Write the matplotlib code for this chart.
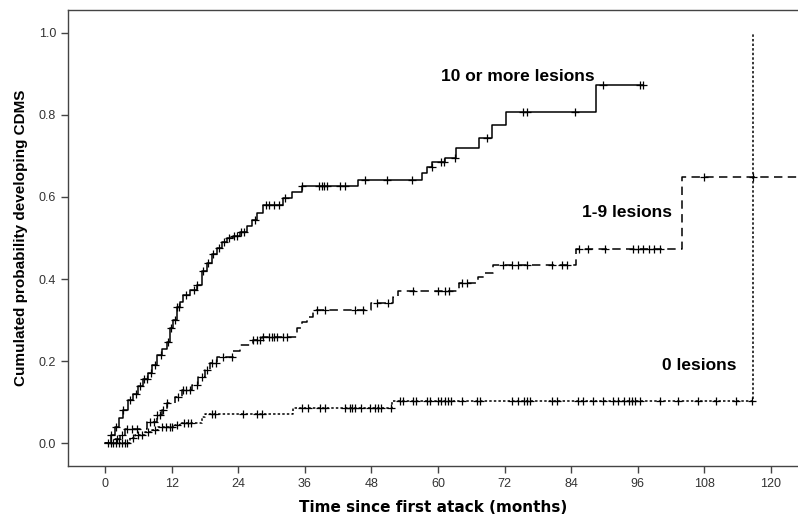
import matplotlib
matplotlib.use("Agg")
import matplotlib.pyplot as plt
import numpy as np

plt.rcParams['font.family'] = ['Liberation Sans', 'DejaVu Sans']

# Kaplan-Meier estimates: event times (months) and cumulated probability after each event
t_10 = [1.0, 1.8, 2.5, 3.2, 4.2, 5.0, 6.0, 6.8, 7.8, 8.5, 9.3, 10.2, 11.1, 11.7, 12.3,
        12.9, 13.5, 14.1, 15.3, 16.5, 17.4, 18.3, 19.2, 20.1, 21.0, 22.0, 23.0, 24.3,
        25.5, 26.4, 27.3, 28.5, 32.0, 33.6, 35.4, 45.5, 57.2, 58.0, 59.0, 61.3, 63.2,
        67.4, 69.7, 72.3, 88.5]
p_10 = [0.02, 0.04, 0.06, 0.08, 0.105, 0.12, 0.14, 0.155, 0.17, 0.19, 0.215, 0.23, 0.247,
        0.28, 0.30, 0.332, 0.345, 0.36, 0.372, 0.385, 0.42, 0.44, 0.46, 0.475, 0.49, 0.50,
        0.505, 0.515, 0.53, 0.544, 0.56, 0.58, 0.597, 0.613, 0.627, 0.641, 0.658, 0.674,
        0.686, 0.696, 0.719, 0.743, 0.776, 0.808, 0.873]
c_10 = [1.0, 2.0, 3.3, 4.5, 5.5, 6.2, 7.0, 7.5, 8.3, 9.0, 10.0, 11.3, 11.8, 12.5, 13.0,
        13.3, 14.5, 16.0, 16.5, 17.7, 18.5, 19.5, 20.5, 21.5, 22.3, 23.2, 23.8, 24.5, 25.0,
        27.0, 29.0, 29.5, 30.5, 31.3, 32.5, 35.4, 38.6, 39.0, 39.5, 40.0, 42.3, 43.3, 46.8,
        50.8, 55.4, 58.9, 60.6, 61.0, 63.0, 68.8, 75.3, 76.0, 84.7, 89.7, 96.4, 97.0]

t_19 = [1.5, 2.7, 3.6, 7.5, 9.3, 10.2, 11.1, 12.6, 13.8, 15.6, 16.8, 18.0, 18.9, 20.1,
        23.0, 24.3, 26.7, 28.2, 34.5, 35.5, 36.3, 37.5, 48.0, 51.9, 52.8, 63.7, 67.3,
        68.5, 70.0, 84.9, 103.9]
p_19 = [0.01, 0.02, 0.035, 0.052, 0.068, 0.08, 0.097, 0.113, 0.129, 0.141, 0.162, 0.178,
        0.194, 0.21, 0.225, 0.239, 0.251, 0.258, 0.28, 0.295, 0.308, 0.324, 0.341, 0.355,
        0.371, 0.391, 0.405, 0.415, 0.434, 0.472, 0.648]
c_19 = [2.2, 3.0, 4.0, 4.8, 5.8, 8.1, 8.8, 9.4, 9.9, 10.5, 11.1, 13.2, 14.0, 14.6, 15.3,
        16.5, 17.4, 18.3, 19.2, 20.0, 21.3, 22.8, 26.7, 27.3, 27.9, 28.5, 29.5, 30.0, 30.5,
        31.0, 32.0, 32.7, 38.1, 39.6, 45.0, 46.5, 49.0, 51.0, 55.5, 60.0, 61.3, 61.9, 64.3,
        65.2, 71.8, 73.3, 74.5, 76.0, 80.5, 82.3, 83.2, 85.5, 87.1, 90.1, 95.1, 96.0, 97.0,
        98.0, 99.0, 100.0, 107.9, 116.8, 127.0]

t_0 = [4.5, 5.4, 7.2, 8.4, 9.6, 12.6, 13.5, 17.4, 18.0, 33.9, 51.7, 116.8]
p_0 = [0.012, 0.02, 0.027, 0.032, 0.04, 0.044, 0.048, 0.064, 0.072, 0.085, 0.103, 1.0]
c_0 = [0.5, 1.0, 1.5, 2.0, 2.5, 3.0, 3.5, 4.0, 5.0, 6.0, 6.6, 7.8, 9.0, 10.3, 11.0, 11.6,
       12.0, 13.0, 14.3, 15.0, 15.5, 19.2, 19.8, 24.9, 27.3, 28.2, 35.4, 36.6, 38.7, 39.6,
       43.2, 44.1, 44.5, 45.0, 46.2, 47.7, 48.6, 49.2, 49.8, 51.5, 53.2, 53.7, 55.5, 56.1,
       58.0, 58.6, 60.0, 60.6, 61.2, 61.8, 62.4, 64.3, 67.0, 67.5, 73.3, 74.5, 75.5, 76.0,
       76.6, 80.5, 81.4, 85.3, 86.2, 87.9, 89.8, 91.5, 92.5, 93.5, 94.5, 95.0, 95.5, 96.4,
       100.0, 103.3, 106.9, 110.2, 113.8, 116.6]

groups = [
    (t_10, p_10, c_10, '-'),
    (t_19, p_19, c_19, (0, (5.5, 3.5))),
    (t_0, p_0, c_0, (0, (1.6, 1.4))),
]

fig = plt.figure(figsize=(7.98, 5.23), dpi=100)
ax = fig.add_axes([68 / 798, 1 - 466 / 523, 1 - 68 / 798, 456 / 523])

for times, probs, cens, ls in groups:
    tx = np.array([0.0] + times)
    py = np.array([0.0] + probs)
    end = max(tx[-1], max(cens))
    sx = np.append(tx, end)
    sy = np.append(py, py[-1])
    ax.step(sx, sy, where='post', color='black', lw=1.1, linestyle=ls)
    # censored cases sit on the current step level
    idx = np.searchsorted(tx, cens, side='right') - 1
    ax.plot(cens, py[idx], linestyle='none', marker='+', ms=5.5, mew=0.9, color='black')

ax.text(88.3, 0.893, '10 or more lesions', ha='right', va='center', fontsize=12.5, fontweight='bold')
ax.text(102.2, 0.563, '1-9 lesions', ha='right', va='center', fontsize=12.5, fontweight='bold')
ax.text(113.9, 0.188, '0 lesions', ha='right', va='center', fontsize=12.5, fontweight='bold')

ax.set_xlim(-6.7, 124.9)
ax.set_ylim(-0.056, 1.056)
ax.set_xticks(np.arange(0, 121, 12))
ax.set_yticks(np.arange(0, 1.01, 0.2))
ax.set_yticklabels(['%.1f' % v for v in np.arange(0, 1.01, 0.2)])
ax.tick_params(labelsize=9, labelcolor='#333333', length=5, width=1.0, color='#444444')
for s in ['left', 'bottom', 'top']:
    ax.spines[s].set_color('#444444')
    ax.spines[s].set_linewidth(1.0)
ax.spines['right'].set_visible(False)

ax.set_xlabel('Time since first atack (months)', fontsize=11, fontweight='bold',
              family='DejaVu Sans', labelpad=7)
ax.set_ylabel('Cumulated probability developing CDMS', fontsize=11, fontweight='bold', labelpad=8)

fig.savefig('out.png', dpi=100)
